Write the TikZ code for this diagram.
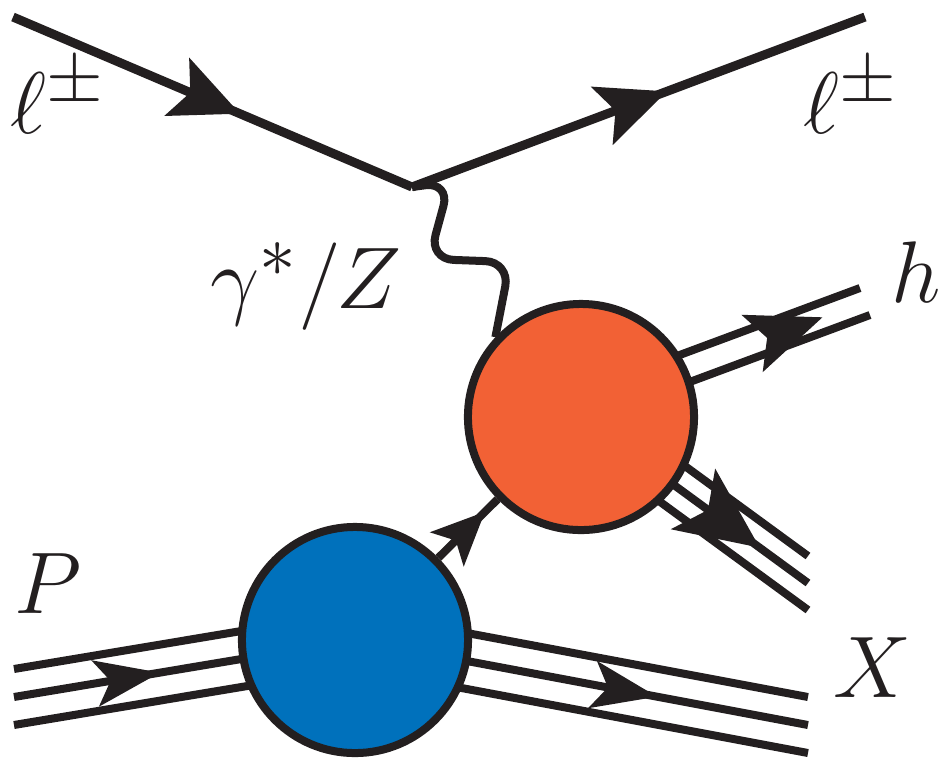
\documentclass[tikz,border=0pt]{standalone}
\usepackage{amsmath}
\usepackage{amssymb}
\usepackage{tikz}
\usetikzlibrary{positioning,arrows.meta,backgrounds,decorations.markings}

\definecolor{lineblack}{HTML}{231F20}
\definecolor{blobblue}{HTML}{0071BC}
\definecolor{bloborange}{HTML}{F26135}

\begin{document}
\begin{tikzpicture}[
    x=0.01cm, y=-0.01cm,
    fermion/.style={draw=lineblack, line width=0.09cm},
    bundle/.style={draw=lineblack, line width=0.08cm},
    photon/.style={draw=lineblack, line width=0.08cm, rounded corners=7pt},
    blob/.style={circle, draw=lineblack, line width=0.08cm, minimum size=2.26cm, inner sep=0pt},
    lbl/.style={font=\Huge, anchor=base, inner sep=0pt, text=lineblack},
    arrowat/.style n args={4}{postaction={decorate}, decoration={markings, mark=at position #1 with {\arrow{Stealth[length=#2, width=#3, inset=#4]}}}}
]
\useasboundingbox (0,0) rectangle (941,759);

\node[blob, fill=blobblue] (blue) at (355,640) {};
\node[blob, fill=bloborange] (orange) at (581,417) {};

\coordinate (vtx) at (412,187);
\coordinate (lin) at (13,17);
\coordinate (lout) at (865,17);
\coordinate (pin) at (14,697);
\coordinate (xout) at (808,725);
\coordinate (jout) at (808,583);
\coordinate (hout) at (865,301.5);
\coordinate (hbase) at ([yshift=0.1cm]orange.center);

\node[lbl] (lepin) at (58,133) {$\ell^{\pm}$};
\node[lbl] (lepout) at (851,133) {$\ell^{\pm}$};
\node[lbl] (gz) at (306,308) {$\gamma^{*}/Z$};
\node[lbl] (hlab) at (916,302) {$h$};
\node[lbl] (xlab) at (872,697) {$X$};
\node[lbl] (plab) at (48,613) {$P$};

\draw[fermion, arrowat={0.569}{0.68cm}{0.62cm}{0.14cm}] (lin) -- (vtx);
\draw[fermion, arrowat={0.563}{0.69cm}{0.61cm}{0.14cm}] (vtx) -- (lout);
\draw[photon] (vtx) -- ++(38,-5) -- ++(-21,77) -- ++(81,3) -- (orange.137);

\begin{scope}[on background layer]
\draw[bundle, arrowat={0.428}{0.65cm}{0.46cm}{0.15cm}] (pin) -- (blue.center);
\foreach \d in {-28,28}
    \draw[bundle] ([shift={(0,\d)}]pin) -- ([shift={(0,\d)}]blue.center);

\draw[bundle, arrowat={0.667}{0.65cm}{0.47cm}{0.15cm}] (blue.center) -- (xout);
\foreach \d in {-28,28}
    \draw[bundle] ([shift={(0,\d)}]blue.center) -- ([shift={(0,\d)}]xout);

\draw[bundle, arrowat={0.789}{0.82cm}{0.74cm}{0.18cm}] (orange.center) -- (jout);
\foreach \d in {-27,27}
    \draw[bundle] ([shift={(0,\d)}]orange.center) -- ([shift={(0,\d)}]jout);

\path[color=lineblack, arrowat={0.851}{0.75cm}{0.61cm}{0.16cm}] (hbase) -- (hout);
\foreach \s in {-1,1}
    \draw[bundle] ([shift={(5*\s,13.5*\s)}]hbase) -- ([shift={(5*\s,13.5*\s)}]hout);
\end{scope}

\draw[bundle, arrowat={0.787}{0.53cm}{0.47cm}{0.12cm}] (blue) -- (orange);
\end{tikzpicture}
\end{document}
